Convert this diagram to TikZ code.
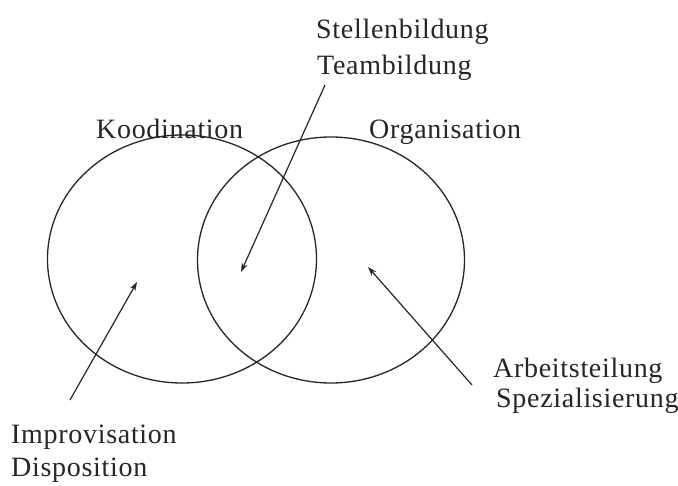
\documentclass[tikz,border=0pt]{standalone}
\usepackage{fontspec}
\setmainfont{Liberation Serif}[LetterSpace=2.5]
\usetikzlibrary{arrows.meta}
\begin{document}
\begin{tikzpicture}[x=1pt,y=-1pt,
  lbl/.style={inner sep=0pt,anchor=base west,font=\fontsize{28}{32}\selectfont,text=black!85},
  ring/.style={draw=black!85,line width=1.3pt},
  pointer/.style={draw=black!85,line width=1.2pt,-{Stealth[length=9pt,width=6pt]}}]
\useasboundingbox[fill=white] (0,0) rectangle (678,486);
% circles
\draw[ring] (182,259) ellipse [x radius=134.5, y radius=124];
\draw[ring] (331,260) ellipse [x radius=133.5, y radius=123];
% labels
\node[lbl] (stellen) at (316,39) {Stellenbildung};
\node[lbl] (team) at (317,75) {Teambildung};
\node[lbl] (koord) at (96,139) {Koodination};
\node[lbl] (orga) at (369,139) {Organisation};
\node[lbl] (arbeit) at (493,378) {Arbeitsteilung};
\node[lbl] (spez) at (496,408) {Spezialisierung};
\node[lbl] (impro) at (11,443) {Improvisation};
\node[lbl] (dispo) at (11,477) {Disposition};
% arrow ends
\coordinate (t1) at (325,85);
\coordinate (h1) at (241,272);
\coordinate (t2) at (70,400);
\coordinate (h2) at (137,282);
\coordinate (t3) at (472,385);
\coordinate (h3) at (368,267);
\draw[pointer] (t1) -- (h1);
\draw[pointer] (t2) -- (h2);
\draw[pointer] (t3) -- (h3);
\end{tikzpicture}
\end{document}
